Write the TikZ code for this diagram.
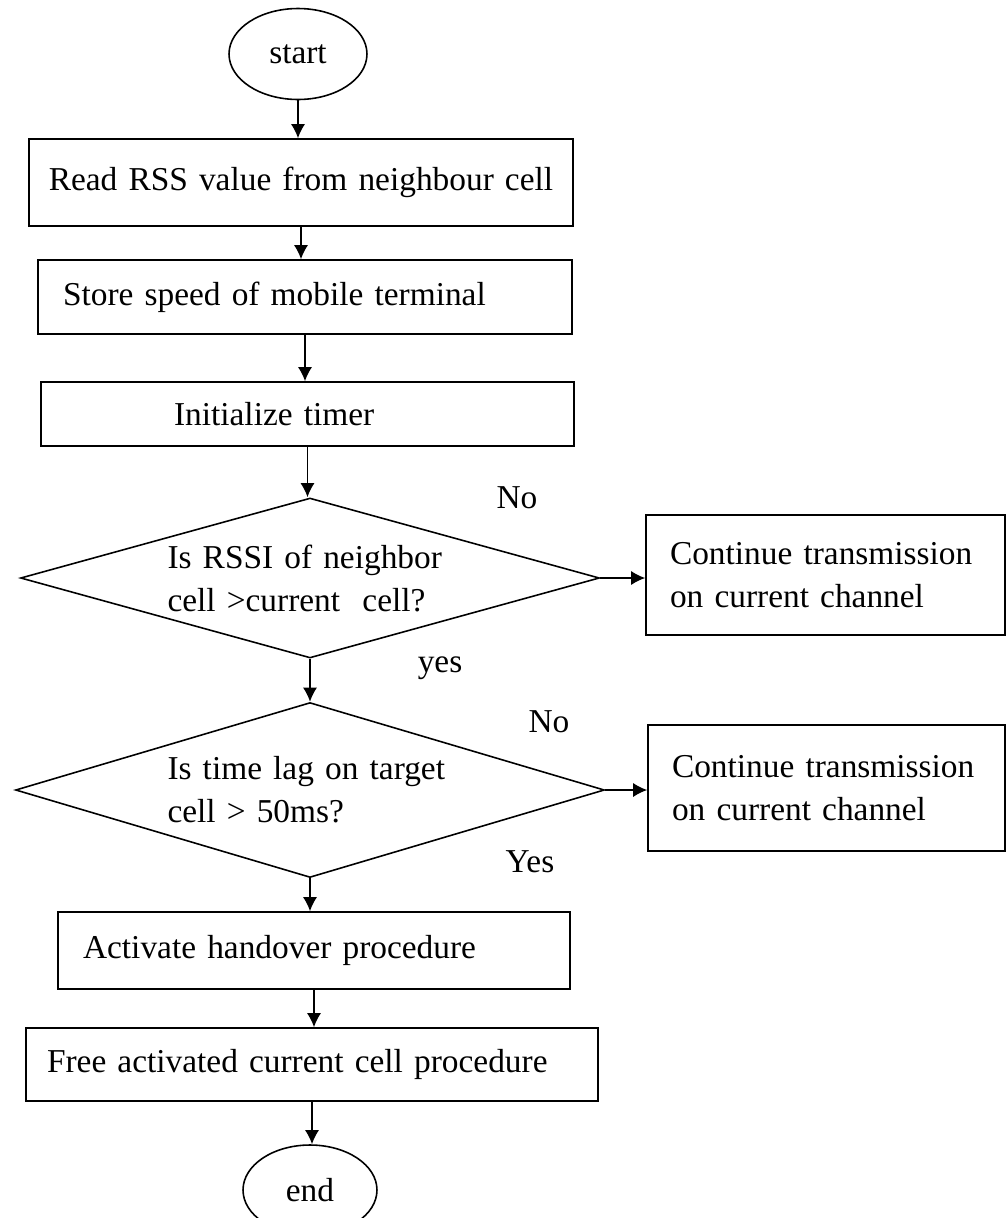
\documentclass[tikz,border=0pt]{standalone}
\usepackage{fontspec}
\setmainfont{Liberation Serif}
\usetikzlibrary{shapes.geometric,arrows.meta}
\tikzset{every node/.style={font=\fontsize{19}{24.5}\selectfont}}
\tikzset{blk/.style = {draw,rectangle,align=left,inner ysep=0pt}}
\tikzset{dec/.style = {draw,diamond,align=left,inner sep=0pt,aspect=3.6}}
\tikzset{term/.style = {draw,ellipse,inner sep=0pt}}
\tikzset{lbl/.style = {inner sep=0pt}}

\begin{document}
\begin{tikzpicture}[x=0.02cm,y=-0.02cm,line width=0.9pt]
      \useasboundingbox (0,0) rectangle (1007,1218);

      \node[term,minimum width=2.76cm,minimum height=1.82cm] (start) at (298,54) {start};
      \node[blk,align=center,minimum height=1.74cm,inner xsep=0.3cm,text width=10.28cm] (b1) at (301,182.5) {Read RSS value from neighbour cell};
      \node[blk,minimum height=1.48cm,inner xsep=0.5cm,text width=9.68cm] (b2) at (305,297) {Store speed of mobile terminal};
      \node[blk,minimum height=1.28cm,inner xsep=2.66cm,text width=5.34cm] (b3) at (307.5,414) {Initialize timer};
      \node[dec,minimum width=11.58cm,minimum height=3.2cm,text width=5.7cm] (d1) at (310,578) {Is RSSI of neighbor\\cell >current~~cell?};
      \node[blk,minimum height=2.4cm,inner xsep=0.48cm,text width=6.22cm] (r1) at (825.5,575) {Continue transmission\\on current channel};
      \node[dec,minimum width=11.78cm,minimum height=3.5cm,text width=5.7cm] (d2) at (310,790) {Is time lag on target\\cell > 50ms?};
      \node[blk,minimum height=2.52cm,inner xsep=0.48cm,text width=6.18cm] (r2) at (826.5,788) {Continue transmission\\on current channel};
      \node[blk,minimum height=1.54cm,inner xsep=0.5cm,text width=9.24cm] (act) at (314,950.5) {Activate handover procedure};
      \node[blk,minimum height=1.46cm,inner xsep=0.42cm,text width=10.6cm] (free) at (312,1064.5) {Free activated current cell procedure};
      \node[term,minimum width=2.68cm,minimum height=1.8cm] (finish) at (310,1190) {end};

      \node[lbl] (no1) at (517,498) {No};
      \node[lbl] (yes1) at (440,668) {yes};
      \node[lbl] (no2) at (549,722) {No};
      \node[lbl] (yes2) at (530,862) {Yes};

 \foreach \a/\b in {start/b1,b1/b2,b2/b3,b3/d1,d1/d2,d2/act,act/free,free/finish}
   \draw[->,>={Latex[length=8pt,width=8pt]}] (\a.south) -- (\a.south |- \b.north);

 \foreach \a/\b in {d1/r1,d2/r2}
   \draw[->,>={Latex[length=8pt,width=8pt]}] (\a.east) -- (\a.east -| \b.west);

    \end{tikzpicture}
\end{document}
